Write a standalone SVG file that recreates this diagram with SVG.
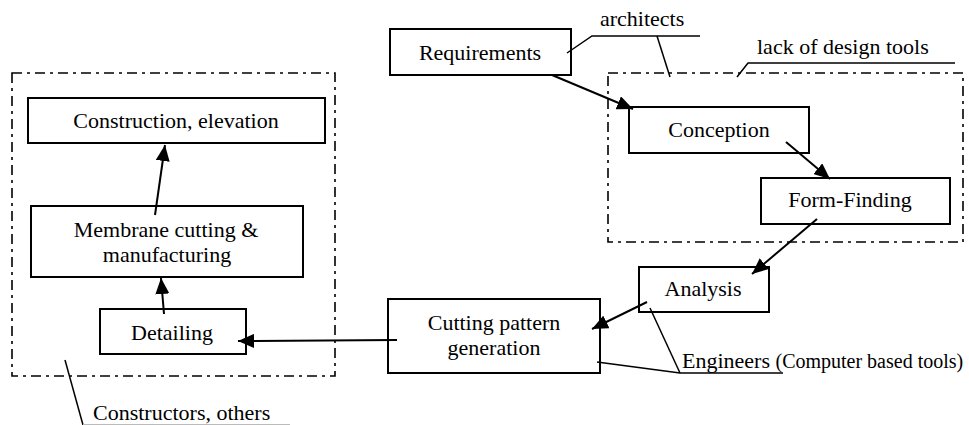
<svg xmlns="http://www.w3.org/2000/svg" width="969" height="425" viewBox="0 0 969 425">
<style>
.box{fill:#fff;stroke:#000;stroke-width:2}
.grp{fill:none;stroke:#000;stroke-width:1.6;stroke-dasharray:10 5 3 5}
.t{font-family:'Liberation Serif','DejaVu Serif',serif;font-size:22px;fill:#000}
.c{text-anchor:middle}
.ln{fill:none;stroke:#000;stroke-width:2}
.ld{fill:none;stroke:#000;stroke-width:1.5}
</style>
<defs>
<marker id="ah" markerUnits="userSpaceOnUse" markerWidth="18" markerHeight="14" refX="16" refY="7" orient="auto">
<path d="M0,0 L16,7 L0,14 z" fill="#000"/>
</marker>
</defs>
<rect width="969" height="425" fill="#fff"/>
<g id="groups">
<rect class="grp" x="12" y="73" width="323" height="303"/>
<rect class="grp" x="608" y="73" width="355" height="169"/>
</g>
<g id="requirements"><rect class="box" x="390" y="29" width="181" height="46"/><text class="t c" font-family="Liberation Serif, serif" x="480" y="60">Requirements</text></g>
<g id="conception"><rect class="box" x="629" y="107" width="180" height="46"/><text class="t c" x="719" y="137">Conception</text></g>
<g id="formfinding"><rect class="box" x="761" y="178" width="189" height="46"/><text class="t c" x="850" y="207">Form-Finding</text></g>
<g id="analysis"><rect class="box" x="639" y="267" width="130" height="45"/><text class="t c" x="703" y="296">Analysis</text></g>
<g id="cutting"><rect class="box" x="388" y="299" width="212" height="74"/><text class="t c" x="494" y="330">Cutting pattern</text><text class="t c" x="494" y="355">generation</text></g>
<g id="detailing"><rect class="box" x="100" y="309" width="146" height="45"/><text class="t c" x="172" y="340">Detailing</text></g>
<g id="membrane"><rect class="box" x="31" y="206" width="272" height="71"/><text class="t c" x="166" y="237">Membrane cutting &amp;</text><text class="t c" x="167" y="262">manufacturing</text></g>
<g id="construction"><rect class="box" x="28" y="98" width="297" height="45"/><text class="t c" x="176" y="128">Construction, elevation</text></g>
<g id="connectors">
<line class="ln" x1="552" y1="75" x2="633" y2="109" marker-end="url(#ah)"/>
<line class="ln" x1="786" y1="142" x2="830" y2="179" marker-end="url(#ah)"/>
<line class="ln" x1="817" y1="219" x2="752" y2="274" marker-end="url(#ah)"/>
<line class="ln" x1="647" y1="302" x2="592" y2="329" marker-end="url(#ah)"/>
<line class="ln" x1="397" y1="340" x2="238" y2="341" marker-end="url(#ah)"/>
<line class="ln" x1="164" y1="314" x2="161" y2="278" marker-end="url(#ah)"/>
<line class="ln" x1="155" y1="215" x2="165" y2="145" marker-end="url(#ah)"/>
</g>
<g id="labels">
<polyline class="ld" points="567,53 592,36 700,36"/>
<line class="ld" x1="657" y1="36" x2="670" y2="77"/>
<text class="t" x="600" y="26">architects</text>
<polyline class="ld" points="737,77 748,63 955,63"/>
<text class="t" x="757" y="54">lack of design tools</text>
<line class="ld" x1="650" y1="308" x2="680" y2="373"/>
<line class="ld" x1="597" y1="362" x2="680" y2="373"/>
<line class="ld" x1="680" y1="373" x2="783" y2="373"/>
<text class="t" x="682" y="368">Engineers <tspan font-size="20">(Computer based tools)</tspan></text>
<line class="ld" x1="65" y1="360" x2="83" y2="425"/>
<line x1="83" y1="424.5" x2="290" y2="424.5" stroke="#bbb" stroke-width="1"/>
<text class="t" x="93" y="420">Constructors, others</text>
</g>
</svg>
